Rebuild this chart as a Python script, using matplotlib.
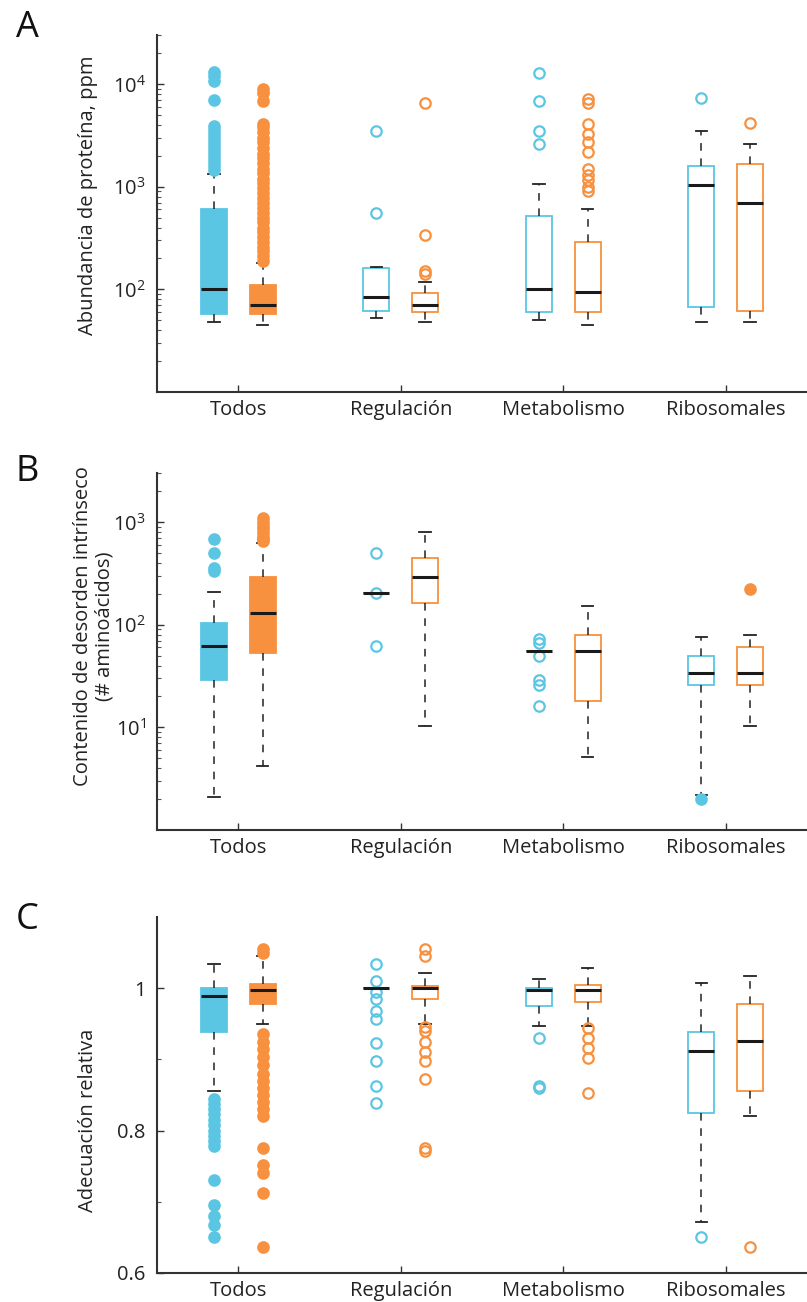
import matplotlib
matplotlib.use("Agg")
import matplotlib.pyplot as plt
from matplotlib.ticker import LogLocator, LogFormatterMathtext, FixedLocator, NullFormatter

plt.rcParams['font.family'] = ['Open Sans', 'DejaVu Sans']
plt.rcParams['mathtext.default'] = 'regular'

categories = ['Todos', 'Regulación', 'Metabolismo', 'Ribosomales']

# box order per panel: Todos blue, Todos orange, Regulación blue, Regulación orange,
# Metabolismo blue, Metabolismo orange, Ribosomales blue, Ribosomales orange

# A: protein abundance (ppm)
a_med = [100, 70, 84, 70, 100, 94, 1030, 700]
a_q1 = [58, 58, 62, 60, 60, 60, 67, 62]
a_q3 = [600, 110, 163, 92, 524, 286, 1600, 1670]
a_lo = [48, 45, 53, 48, 50, 45, 48, 48]
a_hi = [1340, 179, 165, 117, 1070, 610, 3500, 2600]
a_fliers = [
    [1450, 1600, 1750, 1900, 2100, 2300, 2500, 2750, 3000, 3300, 3600, 3900,
     7000, 10800, 12000, 13000],
    [190, 210, 235, 260, 290, 320, 360, 400, 450, 500, 560, 620, 700, 780, 870,
     970, 1080, 1200, 1350, 1500, 1700, 1900, 2100, 2400, 2700, 3000, 3400,
     3800, 4100, 6800, 8200, 8900],
    [560, 3500],
    [140, 152, 335, 6550],
    [2600, 3500, 6800, 12800],
    [900, 1000, 1150, 1300, 1500, 2200, 2700, 3300, 4100, 6600, 7200],
    [7300],
    [4200],
]

# B: intrinsic disorder content (# amino acids)
b_med = [62, 131, 205, 292, 55, 56, 34, 34]
b_q1 = [29, 53, 205, 163, 55, 18, 26, 26]
b_q3 = [105, 292, 205, 447, 55, 80, 50, 61]
b_lo = [2.1, 4.2, 205, 10.2, 55, 5.1, 2.2, 10.3]
b_hi = [210, 625, 205, 800, 55, 153, 76, 80]
b_fliers = [
    [330, 360, 500, 690],
    [650, 680, 720, 780, 850, 920, 1000, 1100],
    [62, 205, 500],
    [],
    [16, 26, 29, 50, 66, 72],
    [],
    [2.0],
    [224],
]

# C: relative fitness
c_med = [0.989, 0.997, 1.0, 1.0, 0.998, 0.998, 0.912, 0.926]
c_q1 = [0.938, 0.978, 1.0, 0.985, 0.975, 0.98, 0.824, 0.856]
c_q3 = [1.0, 1.006, 1.0, 1.003, 1.0, 1.004, 0.938, 0.978]
c_lo = [0.856, 0.95, 1.0, 0.95, 0.947, 0.947, 0.671, 0.82]
c_hi = [1.034, 1.045, 1.0, 1.021, 1.013, 1.029, 1.007, 1.017]
c_fliers = [
    [0.65, 0.668, 0.68, 0.695, 0.73, 0.778, 0.785, 0.793, 0.80, 0.808, 0.815,
     0.823, 0.83, 0.838, 0.845],
    [0.636, 0.712, 0.74, 0.751, 0.776, 0.82, 0.83, 0.84, 0.85, 0.86, 0.87,
     0.88, 0.892, 0.903, 0.914, 0.925, 0.936, 1.05, 1.055],
    [0.839, 0.863, 0.898, 0.923, 0.957, 0.968, 0.985, 0.995, 1.01, 1.034],
    [0.772, 0.776, 0.873, 0.898, 0.91, 0.925, 0.94, 0.945, 1.045, 1.055],
    [0.86, 0.863, 0.93],
    [0.853, 0.902, 0.916, 0.93, 0.944],
    [0.65],
    [0.636],
]

BLUE = '#5BC6E4'
ORANGE = '#F7913F'
FS = 14.5


def draw_panel(ax, med, q1, q3, lo, hi, fliers, filled_box, filled_flier):
    for i in range(len(med)):
        col = BLUE if i % 2 == 0 else ORANGE
        pos = i // 2 + 1 + (-0.15 if i % 2 == 0 else 0.15)
        fc = col if filled_box[i] else 'white'
        mfc = col if filled_flier[i] else 'none'
        st = dict(med=med[i], q1=q1[i], q3=q3[i], whislo=lo[i], whishi=hi[i],
                  fliers=fliers[i])
        ax.bxp([st], positions=[pos], widths=0.16, capwidths=0.07,
               patch_artist=True, manage_ticks=False,
               boxprops=dict(facecolor=fc, edgecolor=col, lw=1.3),
               whiskerprops=dict(color='#222222', ls=(0, (5, 5)), lw=1.1),
               capprops=dict(color='#222222', lw=1.3),
               medianprops=dict(color='#1a1a1a', lw=2.2),
               flierprops=dict(marker='o', markerfacecolor=mfc,
                               markeredgecolor=col, markersize=7.5,
                               markeredgewidth=1.6))
    ax.set_xlim(0.5, 4.5)
    ax.set_xticks([1, 2, 3, 4])
    ax.set_xticklabels(categories)
    for s in ['top', 'right']:
        ax.spines[s].set_visible(False)
    for s in ['left', 'bottom']:
        ax.spines[s].set_linewidth(1.5)
        ax.spines[s].set_color('#333333')
    ax.tick_params(direction='in', length=5, width=1, colors='#333333',
                   labelsize=FS, labelcolor='#222222')
    ax.tick_params(axis='x', pad=6)
    ax.tick_params(axis='y', pad=8)
    ax.tick_params(which='minor', direction='in', length=3, width=0.8,
                   colors='#555555')


fig = plt.figure(figsize=(8.07, 13.02), dpi=100)
W = 1 - 0.1945
axA = fig.add_axes([0.1945, 0.699, W, 0.274])
axB = fig.add_axes([0.1945, 0.3625, W, 0.2742])
axC = fig.add_axes([0.1945, 0.0223, W, 0.2734])

drawA = [True, True, False, False, False, False, False, False]
draw_panel(axA, a_med, a_q1, a_q3, a_lo, a_hi, a_fliers, drawA, drawA)
drawB_flier = [True, True, False, False, False, False, True, True]
draw_panel(axB, b_med, b_q1, b_q3, b_lo, b_hi, b_fliers, drawA, drawB_flier)
draw_panel(axC, c_med, c_q1, c_q3, c_lo, c_hi, c_fliers, drawA, drawA)

axA.set_yscale('log')
axA.set_ylim(10, 3e4)
axA.yaxis.set_major_locator(FixedLocator([1e2, 1e3, 1e4]))
axA.yaxis.set_major_formatter(LogFormatterMathtext())
axA.yaxis.set_minor_locator(LogLocator(subs=range(2, 10)))
axA.yaxis.set_minor_formatter(NullFormatter())

axB.set_yscale('log')
axB.set_ylim(1, 3000)
axB.yaxis.set_major_locator(FixedLocator([1e1, 1e2, 1e3]))
axB.yaxis.set_major_formatter(LogFormatterMathtext())
axB.yaxis.set_minor_locator(LogLocator(subs=range(2, 10)))
axB.yaxis.set_minor_formatter(NullFormatter())

axC.set_ylim(0.6, 1.1)
axC.set_yticks([0.6, 0.8, 1.0])
axC.set_yticklabels(['0.6', '0.8', '1'])
axC.set_yticks([0.7, 0.9], minor=True)

axA.set_ylabel('Abundancia de proteína, ppm', fontsize=FS, color='#222222')
axA.yaxis.set_label_coords(-0.09, 0.55)
axB.set_ylabel('Contenido de desorden intrínseco\n(# aminoácidos)', fontsize=FS,
               color='#222222', linespacing=1.05)
axB.yaxis.set_label_coords(-0.066, 0.57)
axC.set_ylabel('Adecuación relativa', fontsize=FS, color='#222222')
axC.yaxis.set_label_coords(-0.09, 0.43)

for lab, y in [('A', 0.9785), ('B', 0.6375), ('C', 0.2934)]:
    fig.text(0.034, y, lab, fontsize=26, ha='center', va='center', color='#111111')

fig.savefig('out.png', dpi=100)
